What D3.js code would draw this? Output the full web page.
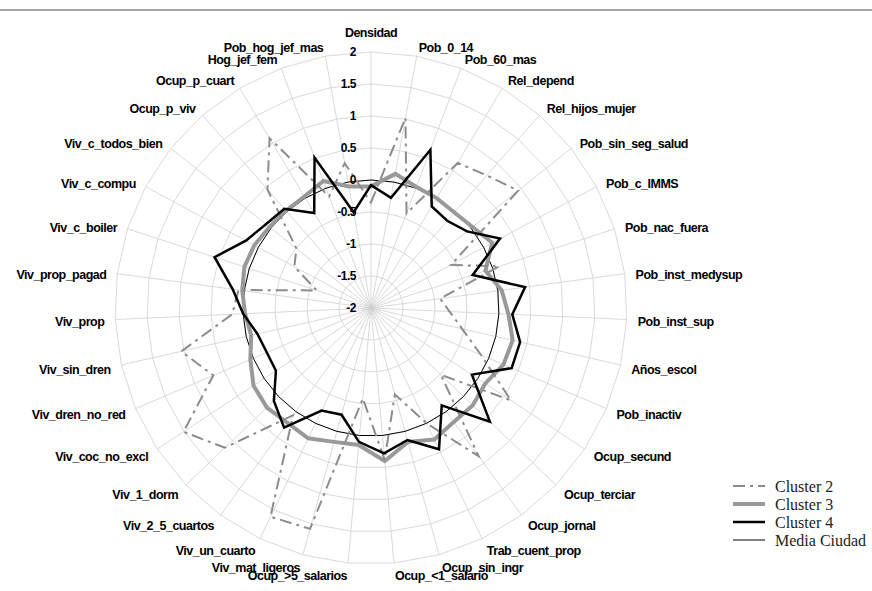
<!DOCTYPE html>
<script src="https://d3js.org/d3.v7.min.js"></script>
<meta charset="utf-8">
<style>
  body { margin: 0; background: #fff; }
</style>
<div id="radar"></div>
<script>

    // axis names, clockwise from the top
    var categories = ["Densidad", "Pob_0_14", "Pob_60_mas", "Rel_depend", "Rel_hijos_mujer",
        "Pob_sin_seg_salud", "Pob_c_IMMS", "Pob_nac_fuera", "Pob_inst_medysup", "Pob_inst_sup",
        "Años_escol", "Pob_inactiv", "Ocup_secund", "Ocup_terciar", "Ocup_jornal",
        "Trab_cuent_prop", "Ocup_sin_ingr", "Ocup_<1_salario", "Ocup_>5_salarios", "Viv_mat_ligeros",
        "Viv_un_cuarto", "Viv_2_5_cuartos", "Viv_1_dorm", "Viv_coc_no_excl", "Viv_dren_no_red",
        "Viv_sin_dren", "Viv_prop", "Viv_prop_pagad", "Viv_c_boiler", "Viv_c_compu",
        "Viv_c_todos_bien", "Ocup_p_viv", "Ocup_p_cuart", "Hog_jef_fem", "Pob_hog_jef_mas"];

    var cluster2 = [-0.35, 1.02, -0.42, 0.64, 0.75, 0.94, -0.58, 0.11, -0.91, -0.77,
        -0.54, -0.13, 0.62, -0.49, 0.86, 0.00, -0.60, 0.38, -0.58, 1.58,
        1.62, 0.07, 1.16, 1.51, 0.68, 1.04, 0.17, 0.09, -1.11, -0.64,
        -0.51, 0.46, 1.09, -0.14, 0.30];

    var cluster3 = [-0.10, 0.13, 0.02, 0.00, -0.02, 0.03, 0.15, -0.12, 0.06, 0.15,
        0.27, 0.25, 0.14, 0.20, 0.20, 0.28, 0.17, 0.40, 0.15, 0.17,
        0.26, 0.22, 0.25, 0.20, 0.05, -0.08, -0.03, 0.03, 0.08, 0.07,
        0.03, 0.02, 0.03, 0.12, -0.07];

    var cluster4 = [-0.08, -0.25, 0.64, -0.15, -0.19, -0.08, 0.29, -0.33, 0.43, 0.21,
        0.39, 0.39, -0.11, 0.57, -0.12, 0.45, 0.14, 0.28, 0.10, -0.27,
        -0.22, 0.31, 0.10, -0.22, -0.23, -0.18, 0.00, 0.18, 0.57, 0.22,
        0.10, 0.06, -0.27, 0.51, -0.48];

    var mediaCiudad = [0, 0, 0, 0, 0, 0, 0, 0, 0, 0,
        0, 0, 0, 0, 0, 0, 0, 0, 0, 0,
        0, 0, 0, 0, 0, 0, 0, 0, 0, 0,
        0, 0, 0, 0, 0];

    var ticks = [-2, -1.5, -1, -0.5, 0, 0.5, 1, 1.5, 2];

    var series = [
        { name: "Cluster 2", values: cluster2, color: "#8c8c8c", width: 2, dash: "12,5,3,5" },
        { name: "Cluster 3", values: cluster3, color: "#999999", width: 4, dash: null },
        { name: "Cluster 4", values: cluster4, color: "#000000", width: 2.5, dash: null },
        { name: "Media Ciudad", values: mediaCiudad, color: "#000000", width: 1, dash: null }
    ];

    var width = 872, height = 591;
    var cx = 371, cy = 308, R = 256;

    var svg = d3.select("#radar")
        .append("svg")
        .attr("width", width)
        .attr("height", height);

    // thin rule at the top of the page
    svg.append("line")
        .attr("x1", 0).attr("x2", width)
        .attr("y1", 10).attr("y2", 10)
        .attr("stroke", "#8a8a8a")
        .attr("stroke-width", 1.5);

    var g = svg.append("g")
        .attr("transform", "translate(" + cx + "," + cy + ")");

    var r = d3.scaleLinear().domain([-2, 2]).range([0, R]);
    var angle = d3.scaleLinear().domain([0, categories.length]).range([0, 2 * Math.PI]);

    // polygon grid rings
    var ring = d3.lineRadial()
        .angle(function (d, i) { return angle(i); })
        .radius(function (d) { return r(d); })
        .curve(d3.curveLinearClosed);

    g.selectAll(".ring")
        .data(ticks.slice(1))
        .enter()
        .append("path")
        .attr("d", function (t) { return ring(categories.map(function () { return t; })); })
        .attr("fill", "none")
        .attr("stroke", "#cfcfcf")
        .attr("stroke-width", 0.8);

    // spokes
    g.selectAll(".spoke")
        .data(categories)
        .enter()
        .append("line")
        .attr("x1", 0).attr("y1", 0)
        .attr("x2", function (d, i) { return R * Math.sin(angle(i)); })
        .attr("y2", function (d, i) { return -R * Math.cos(angle(i)); })
        .attr("stroke", "#cfcfcf")
        .attr("stroke-width", 0.8);

    // series lines
    var line = d3.lineRadial()
        .angle(function (d, i) { return angle(i); })
        .radius(function (d) { return r(d); })
        .curve(d3.curveLinearClosed);

    var drawOrder = [series[3], series[1], series[0], series[2]];
    g.selectAll(".serie")
        .data(drawOrder)
        .enter()
        .append("path")
        .attr("d", function (s) { return line(s.values); })
        .attr("fill", "none")
        .attr("stroke", function (s) { return s.color; })
        .attr("stroke-width", function (s) { return s.width; })
        .attr("stroke-dasharray", function (s) { return s.dash; })
        .attr("stroke-linejoin", "miter");

    // tick labels along the top spoke
    g.selectAll(".tick")
        .data(ticks)
        .enter()
        .append("text")
        .attr("x", -15)
        .attr("y", function (t) { return -r(t); })
        .attr("dy", "0.35em")
        .attr("text-anchor", "end")
        .style("font-family", "'Liberation Sans', Arial, sans-serif")
        .style("font-weight", "bold")
        .style("font-size", "12px")
        .style("letter-spacing", "-0.5px")
        .text(function (t) { return t; });

    // category labels
    g.selectAll(".cat")
        .data(categories)
        .enter()
        .append("text")
        .attr("x", function (d, i) { return (R + 11) * Math.sin(angle(i)); })
        .attr("y", function (d, i) {
            if (i === 0) return -R - 19;
            return -(R + 11) * Math.cos(angle(i)) + 2;
        })
        .attr("dy", "0.35em")
        .attr("text-anchor", function (d, i) {
            var s = Math.sin(angle(i));
            if (Math.abs(s) < 0.01) return "middle";
            return s > 0 ? "start" : "end";
        })
        .style("font-family", "'Liberation Sans', Arial, sans-serif")
        .style("font-weight", "bold")
        .style("font-size", "12.5px")
        .style("letter-spacing", "-0.5px")
        .text(function (d) { return d; });

    // legend
    var legend = svg.append("g")
        .attr("transform", "translate(733,486)");

    var item = legend.selectAll(".item")
        .data(series)
        .enter()
        .append("g")
        .attr("transform", function (d, i) { return "translate(0," + (i * 18) + ")"; });

    item.append("line")
        .attr("x1", 0).attr("x2", 32)
        .attr("y1", 0).attr("y2", 0)
        .attr("stroke", function (s) { return s.color; })
        .attr("stroke-width", function (s) { return s.width; })
        .attr("stroke-dasharray", function (s) { return s.dash; });

    item.append("text")
        .attr("x", 42)
        .attr("dy", "0.35em")
        .style("font-family", "'Liberation Serif', 'DejaVu Serif', serif")
        .style("font-size", "16px")
        .style("fill", "#222")
        .text(function (s) { return s.name; });

</script>
